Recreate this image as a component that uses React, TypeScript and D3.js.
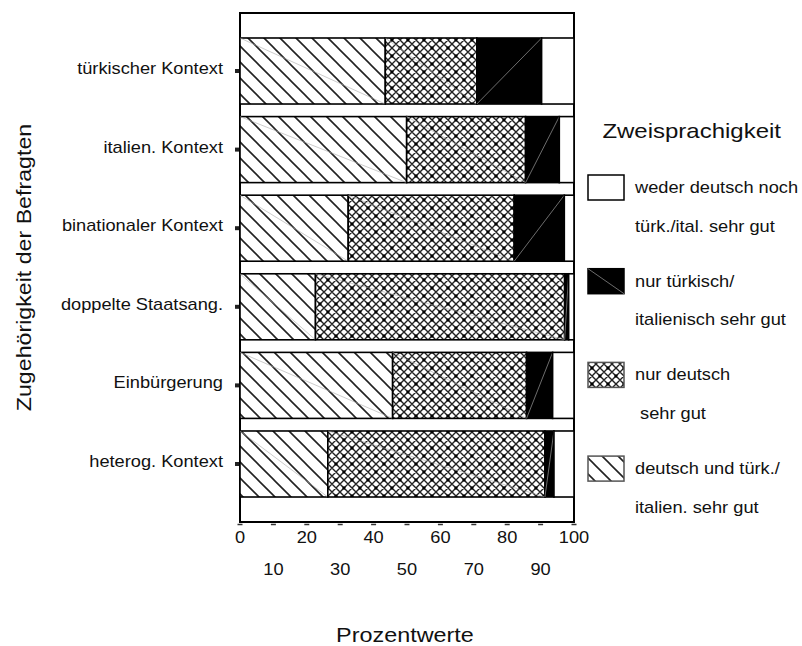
import React from 'react';
import * as d3 from 'd3';

// categories top to bottom
const categories = [
  'türkischer Kontext',
  'italien. Kontext',
  'binationaler Kontext',
  'doppelte Staatsang.',
  'Einbürgerung',
  'heterog. Kontext',
];

// percentages, stacked left to right
const beideSprachen = [43.5, 49.9, 32.4, 22.6, 45.7, 26.3];
const nurDeutsch = [27.4, 35.6, 49.7, 74.6, 40.1, 65.0];
const nurHerkunft = [19.4, 10.1, 15.0, 1.2, 7.8, 2.7];
const keine = [9.7, 4.4, 2.9, 1.6, 6.4, 6.0];

const seriesKeys = ['beide', 'deutsch', 'herkunft', 'keine'];

// legend, top to bottom
const legendKeys = ['keine', 'herkunft', 'deutsch', 'beide'];
const legendLines: Record<string, string[]> = {
  keine: ['weder deutsch noch', 'türk./ital. sehr gut'],
  herkunft: ['nur türkisch/', 'italienisch sehr gut'],
  deutsch: ['nur deutsch', '\u00a0sehr gut'],
  beide: ['deutsch und türk./', 'italien. sehr gut'],
};

const xTicks = [0, 10, 20, 30, 40, 50, 60, 70, 80, 90, 100];

const FONT = '"Liberation Sans", Arial, Helvetica, sans-serif';
const SX = 1.14; // reference text is drawn a bit wide

const fills: Record<string, string> = {
  beide: 'url(#pat-diag)',
  deutsch: 'url(#pat-cross)',
  herkunft: '#000',
  keine: '#fff',
};

const T: React.FC<{
  x: number;
  y: number;
  size: number;
  anchor?: string;
  rotate?: number;
  sx?: number;
  children: React.ReactNode;
}> = ({ x, y, size, anchor = 'start', rotate = 0, sx = SX, children }) => (
  <text
    transform={`translate(${x},${y}) rotate(${rotate}) scale(${sx},1)`}
    textAnchor={anchor}
    fontSize={size}
    fontFamily={FONT}
    fill="#111"
  >
    {children}
  </text>
);

export default function App() {
  const width = 802;
  const height = 646;
  const plot = { left: 240, right: 574, top: 13, bottom: 522 };

  const x = d3.scaleLinear().domain([0, 100]).range([plot.left, plot.right]);
  const y = d3
    .scaleBand<string>()
    .domain(categories)
    .range([plot.top, plot.bottom])
    .paddingInner(0.16)
    .paddingOuter(0.318);

  const rows = categories.map((c, i) => ({
    cat: c,
    beide: beideSprachen[i],
    deutsch: nurDeutsch[i],
    herkunft: nurHerkunft[i],
    keine: keine[i],
  }));
  const stacked = d3.stack<any>().keys(seriesKeys)(rows);

  const bw = y.bandwidth();

  // legend layout
  const legX = 588;
  const legBase = 193;
  const legStep = 93.7;

  return (
    <div style={{ position: 'absolute', left: 0, top: 0 }}>
      <svg width={width} height={height} style={{ display: 'block', background: '#fff' }}>
        <defs>
          <pattern id="pat-diag" patternUnits="userSpaceOnUse" width={16} height={16} patternTransform="translate(2,0)">
            <rect width={16} height={16} fill="#fff" />
            <path d="M-4,-4L20,20M-4,12L4,20M12,-4L20,4" stroke="#222" strokeWidth={1.6} />
          </pattern>
          <pattern id="pat-cross" patternUnits="userSpaceOnUse" width={16} height={16}>
            <rect width={16} height={16} fill="#fff" />
            <path
              d="M-4,-4L20,20M-4,4L12,20M4,-4L20,12M-4,12L4,20M12,-4L20,4M-4,20L20,-4M-4,12L12,-4M4,20L20,4M-4,4L4,-4M12,20L20,12"
              stroke="#222"
              strokeWidth={1.4}
            />
            <rect x={-1.5} y={-1.5} width={3} height={3} fill="#000" />
            <rect x={14.5} y={-1.5} width={3} height={3} fill="#000" />
            <rect x={-1.5} y={14.5} width={3} height={3} fill="#000" />
            <rect x={14.5} y={14.5} width={3} height={3} fill="#000" />
            <rect x={6.5} y={6.5} width={3} height={3} fill="#000" />
          </pattern>
        </defs>

        {/* frame */}
        <rect
          x={plot.left}
          y={plot.top}
          width={plot.right - plot.left}
          height={plot.bottom - plot.top}
          fill="#fff"
          stroke="#000"
          strokeWidth={2}
        />

        {/* stacked bars */}
        {stacked.map(s => (
          <g key={s.key}>
            {s.map((d, i) => {
              const x0 = x(d[0]);
              const x1 = x(d[1]);
              const y0 = y(categories[i]) as number;
              return (
                <g key={i}>
                  <rect
                    x={x0}
                    y={y0}
                    width={x1 - x0}
                    height={bw}
                    fill={fills[s.key]}
                    stroke="#000"
                    strokeWidth={1.6}
                  />
                  {s.key === 'herkunft' && (
                    <line x1={x0} y1={y0 + bw} x2={x1} y2={y0} stroke="#888" strokeWidth={0.8} />
                  )}
                  {(s.key === 'beide' || s.key === 'deutsch') && (
                    <line x1={x0} y1={y0} x2={x1} y2={y0 + bw} stroke="#aaa" strokeWidth={0.6} />
                  )}
                </g>
              );
            })}
          </g>
        ))}

        {/* y ticks + labels */}
        {categories.map(c => {
          const cy = (y(c) as number) + bw / 2;
          return (
            <g key={c}>
              <rect x={235} y={cy - 2} width={4} height={4} fill="#222" />
              <T x={223} y={cy + 3} size={16} anchor="end">
                {c}
              </T>
            </g>
          );
        })}

        {/* x ticks + staggered labels */}
        {xTicks.map((t, i) => (
          <g key={t}>
            <line x1={x(t) - 2.5} x2={x(t) + 2.5} y1={524.5} y2={524.5} stroke="#333" strokeWidth={1.5} />
            <T x={x(t)} y={i % 2 === 0 ? 543 : 575} size={16} anchor="middle">
              {t}
            </T>
          </g>
        ))}

        {/* axis titles */}
        <T x={405} y={642} size={20} anchor="middle" sx={1.17}>
          Prozentwerte
        </T>
        <T x={31} y={267.5} size={20} anchor="middle" rotate={-90} sx={1.16}>
          Zugehörigkeit der Befragten
        </T>

        {/* legend */}
        <T x={691.7} y={138} size={20} anchor="middle" sx={1.2}>
          Zweisprachigkeit
        </T>
        {legendKeys.map((k, i) => {
          const b = legBase + i * legStep;
          return (
            <g key={k}>
              <rect
                x={legX}
                y={b - 18}
                width={36}
                height={25}
                fill={fills[k]}
                stroke={k === 'keine' || k === 'herkunft' ? '#000' : '#555'}
                strokeWidth={1.5}
              />
              {k === 'herkunft' && (
                <line x1={legX} y1={b - 18} x2={legX + 36} y2={b + 7} stroke="#888" strokeWidth={0.8} />
              )}
              <T x={635} y={b} size={16}>
                {legendLines[k][0]}
              </T>
              <T x={635} y={b + 38.5} size={16}>
                {legendLines[k][1]}
              </T>
            </g>
          );
        })}
      </svg>
    </div>
  );
}
